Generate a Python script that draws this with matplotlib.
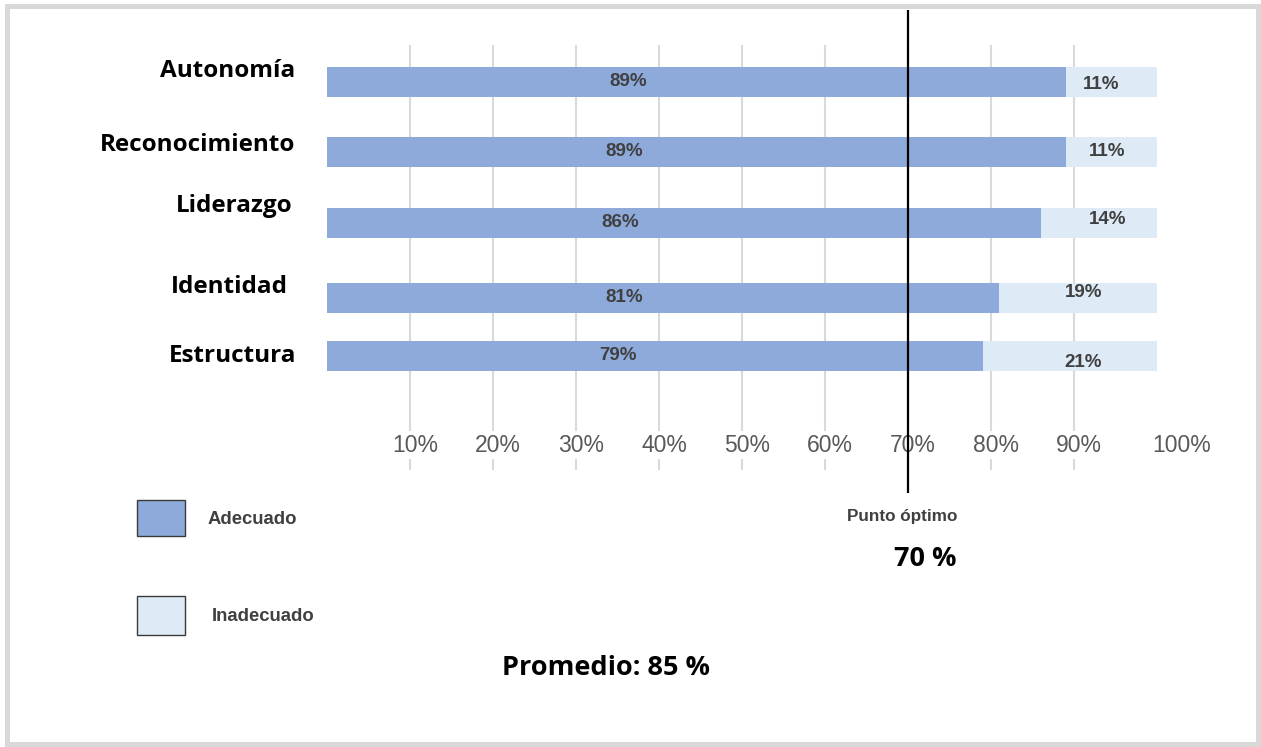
import matplotlib
matplotlib.use("Agg")
import matplotlib.pyplot as plt
from matplotlib.patches import Rectangle

# Climate dimensions (top to bottom) and their shares
categories = ["Autonomía", "Reconocimiento", "Liderazgo", "Identidad", "Estructura"]
adecuado = [89, 89, 86, 81, 79]
inadecuado = [11, 11, 14, 19, 21]
tick_values = [10, 20, 30, 40, 50, 60, 70, 80, 90, 100]
tick_labels = ["10%", "20%", "30%", "40%", "50%", "60%", "70%", "80%", "90%", "100%"]
punto_optimo = 70
promedio = 85

# vertical placement of each row (in row units)
row_pos = [0.0, 1.02, 2.06, 3.15, 4.0]

W, H = 1261, 747
BLUE = "#8EAADB"
LIGHT = "#DEEAF6"
GRID = "#D9D9D9"
LABEL_GRAY = "#404040"
TICK_GRAY = "#595959"
HEAD_FONT = "Open Sans"

fig = plt.figure(figsize=(W / 100, H / 100), dpi=100)
fig.patch.set_facecolor("white")

# Axes covering the whole canvas; x in percent, y in row units
X0_PX, PX_PER_PCT = 327.0, 8.3
Y0_PX, PX_PER_ROW = 82.0, 68.5
ax = fig.add_axes([0, 0, 1, 1])
ax.set_xlim(-X0_PX / PX_PER_PCT, (W - X0_PX) / PX_PER_PCT)
ax.set_ylim((H - Y0_PX) / PX_PER_ROW, -Y0_PX / PX_PER_ROW)
ax.axis("off")

bar_h = 30 / PX_PER_ROW

# light vertical gridlines
grid_top = (45 - Y0_PX) / PX_PER_ROW
grid_bot = (470 - Y0_PX) / PX_PER_ROW
ax.vlines(tick_values[:-1], grid_bot, grid_top, colors=GRID, linewidth=1.5, zorder=1)

# stacked bars
ax.barh(row_pos, adecuado, height=bar_h, color=BLUE, zorder=2)
ax.barh(row_pos, inadecuado, left=adecuado, height=bar_h, color=LIGHT, zorder=2)

# value labels
lab_kw = dict(fontsize=13.5, fontweight="bold", color=LABEL_GRAY,
              family="Liberation Sans", ha="center", va="center", zorder=5)
adec_label_x = [36.3, 35.8, 35.3, 35.8, 35.0]
inad_label_x = [93.3, 94.0, 94.0, 91.1, 91.1]
inad_label_dy = [0.03, 0.0, -0.05, -0.07, 0.1]
for r, a, b, xa, xb, dy in zip(row_pos, adecuado, inadecuado, adec_label_x, inad_label_x, inad_label_dy):
    ax.text(xa, r - 0.01, f"{a}%", **lab_kw)
    ax.text(xb, r + dy, f"{b}%", **lab_kw)

# category labels on the left
cat_right_px = [295, 295, 292, 288, 296]
cat_y_px = [71, 145, 206, 287, 356]
for name, xr, yc in zip(categories, cat_right_px, cat_y_px):
    ax.text((xr - X0_PX) / PX_PER_PCT, (yc - Y0_PX) / PX_PER_ROW, name,
            fontsize=17.5, fontweight="bold", family=HEAD_FONT, color="black",
            ha="right", va="center")

# percentage scale labels inside the plot area
tick_y = (445 - Y0_PX) / PX_PER_ROW
for v, t in zip(tick_values, tick_labels):
    xpos = v + 0.6 if v < 100 else v + 3.0
    ax.text(xpos, tick_y, t, fontsize=16.5, color=TICK_GRAY, family="Liberation Sans",
            ha="center", va="center", zorder=3,
            bbox=dict(facecolor="white", edgecolor="none", pad=1.5))

# optimum reference line
line_top = (10 - Y0_PX) / PX_PER_ROW
line_bot = (493 - Y0_PX) / PX_PER_ROW
ax.vlines(punto_optimo, line_bot, line_top, colors="black", linewidth=1.6, zorder=6)


def px(x, y):
    return x / W, 1 - y / H


# legend swatches
for (y0, y1), col, name, tx in [((500, 536), BLUE, "Adecuado", 208),
                                ((596, 635), LIGHT, "Inadecuado", 212)]:
    fig.patches.append(Rectangle(px(137, y1), 48 / W, (y1 - y0) / H,
                                 transform=fig.transFigure, facecolor=col,
                                 edgecolor="#3A3A3A", linewidth=1.0))
    fig.text(*px(tx, (y0 + y1) / 2 + 1), name, fontsize=13.3, fontweight="bold",
             color=LABEL_GRAY, family="Liberation Sans", ha="left", va="center")

fig.text(*px(902, 517), "Punto óptimo", fontsize=12.3, fontweight="bold",
         color=LABEL_GRAY, family="Liberation Sans", ha="center", va="center")
fig.text(*px(925, 559), f"{punto_optimo} %", fontsize=19.5, fontweight="bold",
         color="black", family=HEAD_FONT, ha="center", va="center")
fig.text(*px(606, 668), f"Promedio: {promedio} %", fontsize=19.5, fontweight="bold",
         color="black", family=HEAD_FONT, ha="center", va="center")

# outer frame
fig.patches.append(Rectangle(px(7, 744), (1258 - 7) / W, (744 - 5.5) / H,
                             transform=fig.transFigure, facecolor="none",
                             edgecolor=GRID, linewidth=3.6))

fig.savefig("out.png", dpi=100)
